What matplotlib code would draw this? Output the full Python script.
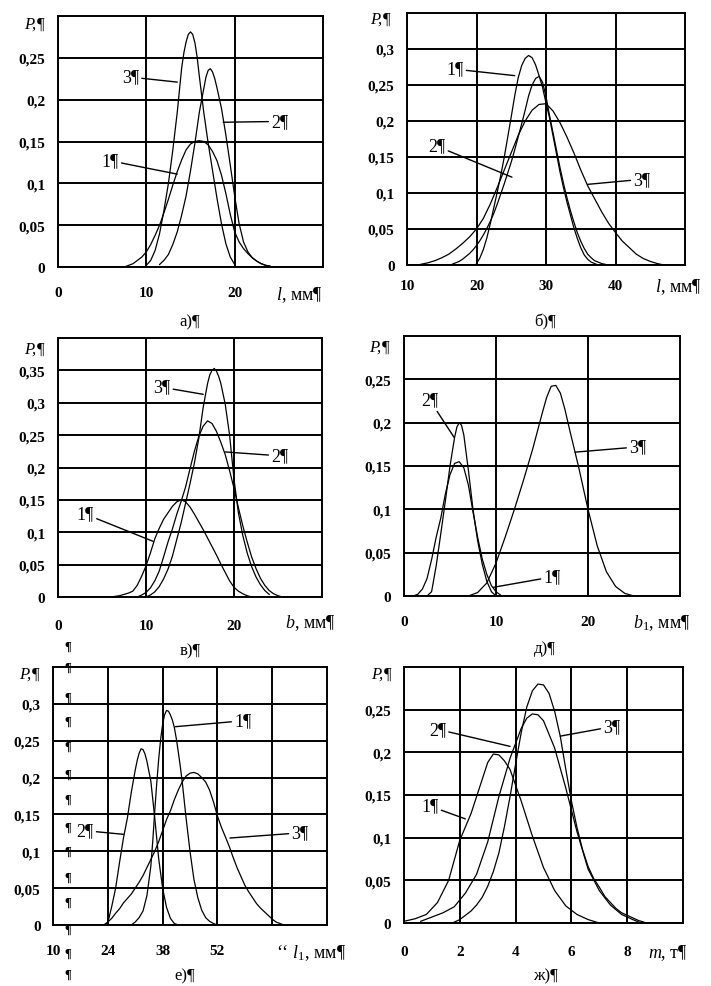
import matplotlib
matplotlib.use("Agg")
import matplotlib.pyplot as plt

plt.rcParams['font.family'] = ['Liberation Serif', 'DejaVu Serif']
plt.rcParams['mathtext.fontset'] = 'custom'
plt.rcParams['mathtext.it'] = 'Liberation Serif:italic'
plt.rcParams['mathtext.rm'] = 'Liberation Serif'

# ---- а) ----
a_x1 = [7.5, 8, 8.5, 9, 9.5, 10, 10.5, 11, 11.5, 12, 12.5, 13, 13.5, 14, 14.5, 15, 15.5,
        16, 16.5, 17, 17.5, 18, 18.5, 19, 19.5, 20, 20.5, 21, 21.5, 22, 22.5, 23, 23.5, 24]
a_y1 = [0.0, 0.002, 0.004, 0.008, 0.012, 0.018, 0.027, 0.038, 0.050, 0.065, 0.081, 0.098, 0.114,
        0.128, 0.140, 0.147, 0.150, 0.151, 0.150, 0.146, 0.138, 0.127, 0.110, 0.088, 0.063, 0.042,
        0.030, 0.022, 0.016, 0.011, 0.007, 0.004, 0.002, 0.001]
a_x2 = [11.5, 12, 12.5, 13, 13.5, 14, 14.5, 15, 15.5, 16, 16.5, 16.75, 17, 17.25, 17.5, 17.75,
        18, 18.5, 19, 19.5, 20, 20.5, 21, 21.5, 22, 22.5, 23, 23.5, 24]
a_y2 = [0.003, 0.008, 0.015, 0.027, 0.042, 0.062, 0.085, 0.115, 0.148, 0.185, 0.213, 0.227, 0.235,
        0.237, 0.233, 0.225, 0.214, 0.190, 0.158, 0.122, 0.085, 0.052, 0.030, 0.018, 0.011, 0.007,
        0.004, 0.002, 0.001]
a_x3 = [10, 10.5, 11, 11.5, 12, 12.5, 13, 13.5, 14, 14.25, 14.5, 14.75, 15, 15.25, 15.5, 15.75,
        16, 16.5, 17, 17.5, 18, 18.5, 19, 19.5, 20]
a_y3 = [0.002, 0.008, 0.020, 0.040, 0.068, 0.100, 0.140, 0.185, 0.238, 0.256, 0.269, 0.278, 0.281,
        0.278, 0.268, 0.251, 0.228, 0.185, 0.148, 0.115, 0.082, 0.052, 0.028, 0.012, 0.003]

# ---- б) ----
b_x1 = [20, 20.5, 21, 21.5, 22, 22.5, 23, 23.5, 24, 24.5, 25, 25.5, 26, 26.5, 27, 27.5, 28, 28.5,
        29, 29.5, 30, 30.5, 31, 31.5, 32, 32.5, 33, 33.5, 34, 34.5, 35, 35.5, 36, 36.5, 37, 37.5]
b_y1 = [0.002, 0.010, 0.022, 0.038, 0.058, 0.080, 0.102, 0.125, 0.150, 0.178, 0.206, 0.235, 0.260,
        0.277, 0.287, 0.291, 0.288, 0.278, 0.263, 0.247, 0.225, 0.205, 0.180, 0.155, 0.130, 0.108,
        0.088, 0.070, 0.052, 0.037, 0.024, 0.014, 0.008, 0.004, 0.002, 0.0]
b_x2 = [16.5, 17, 17.5, 18, 18.5, 19, 19.5, 20, 20.5, 21, 21.5, 22, 22.5, 23, 23.5, 24, 24.5, 25,
        25.5, 26, 26.5, 27, 27.5, 28, 28.5, 29, 29.5, 30, 30.5, 31, 31.5, 32, 32.5, 33, 33.5, 34,
        34.5, 35, 35.5, 36, 36.5, 37, 37.5, 38, 38.5]
b_y2 = [0.001, 0.003, 0.005, 0.008, 0.012, 0.016, 0.021, 0.027, 0.034, 0.042, 0.051, 0.061, 0.072,
        0.085, 0.099, 0.113, 0.128, 0.143, 0.160, 0.178, 0.196, 0.215, 0.235, 0.250, 0.259, 0.262,
        0.254, 0.234, 0.208, 0.184, 0.160, 0.136, 0.114, 0.094, 0.076, 0.060, 0.045, 0.033, 0.023,
        0.015, 0.010, 0.006, 0.004, 0.002, 0.001]
b_x3 = [12, 13, 14, 15, 16, 17, 18, 19, 20, 21, 22, 23, 24, 25, 26, 27, 28, 29, 30, 31, 32, 33,
        34, 35, 36, 37, 38, 39, 40, 41, 42, 43, 44, 45, 46, 47]
b_y3 = [0.001, 0.003, 0.006, 0.010, 0.015, 0.022, 0.030, 0.039, 0.050, 0.065, 0.085, 0.108, 0.132,
        0.156, 0.180, 0.200, 0.215, 0.223, 0.224, 0.214, 0.198, 0.178, 0.156, 0.132, 0.110, 0.092,
        0.074, 0.058, 0.045, 0.033, 0.024, 0.015, 0.009, 0.005, 0.002, 0.0]

# ---- в) ----
c_x1 = [6, 6.5, 7, 7.5, 8, 8.5, 9, 9.5, 10, 10.5, 11, 11.5, 12, 12.5, 13, 13.5, 14, 14.5, 15,
        15.5, 16, 16.5, 17, 17.5, 18, 18.5, 19, 19.5, 20, 20.5, 21, 21.5, 22]
c_y1 = [0.0, 0.001, 0.002, 0.004, 0.006, 0.009, 0.018, 0.032, 0.048, 0.068, 0.090, 0.106, 0.120,
        0.130, 0.140, 0.147, 0.150, 0.147, 0.139, 0.128, 0.116, 0.104, 0.091, 0.078, 0.065, 0.051,
        0.038, 0.025, 0.015, 0.009, 0.005, 0.002, 0.0]
c_x2 = [9, 9.5, 10, 10.5, 11, 11.5, 12, 12.5, 13, 13.5, 14, 14.5, 15, 15.5, 16, 16.5, 17, 17.5,
        18, 18.5, 19, 19.5, 20, 20.5, 21, 21.5, 22, 22.5, 23, 23.5, 24, 24.5, 25, 25.5]
c_y2 = [0.0, 0.003, 0.007, 0.014, 0.025, 0.040, 0.062, 0.085, 0.105, 0.128, 0.148, 0.170, 0.198,
        0.225, 0.248, 0.264, 0.272, 0.268, 0.256, 0.239, 0.220, 0.195, 0.168, 0.138, 0.110, 0.085,
        0.062, 0.044, 0.029, 0.018, 0.010, 0.005, 0.002, 0.0]
c_x3 = [10, 10.5, 11, 11.5, 12, 12.5, 13, 13.5, 14, 14.5, 15, 15.5, 16, 16.5, 17, 17.25, 17.5,
        17.75, 18, 18.25, 18.5, 19, 19.5, 20, 20.5, 21, 21.5, 22, 22.5, 23, 23.5, 24]
c_y3 = [0.0, 0.003, 0.008, 0.016, 0.028, 0.043, 0.063, 0.089, 0.115, 0.145, 0.175, 0.207, 0.245,
        0.293, 0.330, 0.343, 0.350, 0.353, 0.349, 0.341, 0.330, 0.298, 0.250, 0.182, 0.130, 0.095,
        0.068, 0.047, 0.031, 0.019, 0.010, 0.004]

# ---- д) ----
d_x1 = [1, 1.5, 2, 2.5, 3, 3.5, 4, 4.5, 5, 5.5, 6, 6.5, 7, 7.5, 8, 8.5, 9, 9.5, 10, 10.5]
d_y1 = [0.0, 0.002, 0.008, 0.020, 0.042, 0.068, 0.090, 0.118, 0.140, 0.153, 0.155, 0.148, 0.128,
        0.097, 0.068, 0.043, 0.025, 0.012, 0.005, 0.001]
d_x2 = [2.5, 3, 3.5, 4, 4.5, 5, 5.5, 5.75, 6, 6.25, 6.5, 7, 7.5, 8, 8.5, 9, 9.5, 10]
d_y2 = [0.0, 0.005, 0.035, 0.072, 0.110, 0.150, 0.183, 0.195, 0.200, 0.197, 0.186, 0.145, 0.100,
        0.064, 0.037, 0.017, 0.005, 0.0]
d_x3 = [7, 8, 9, 10, 11, 12, 13, 14, 15, 15.5, 16, 16.5, 17, 17.5, 18, 19, 20, 21, 22, 23, 24, 25]
d_y3 = [0.0, 0.004, 0.015, 0.038, 0.068, 0.100, 0.134, 0.170, 0.210, 0.229, 0.242, 0.243, 0.234,
        0.215, 0.192, 0.148, 0.100, 0.058, 0.028, 0.011, 0.003, 0.0]

# ---- е) ----
e_x1 = [30, 31, 32, 33, 34, 35, 35.5, 36, 36.5, 37, 37.5, 38, 38.5, 39, 39.5, 40, 40.5, 41, 41.5,
        42, 42.5, 43, 44, 45, 46, 47, 48, 49, 50, 51, 52]
e_y1 = [0.0, 0.004, 0.010, 0.019, 0.040, 0.080, 0.115, 0.155, 0.192, 0.225, 0.252, 0.272, 0.285,
        0.291, 0.290, 0.285, 0.278, 0.268, 0.253, 0.235, 0.216, 0.195, 0.145, 0.100, 0.062, 0.037,
        0.020, 0.010, 0.005, 0.002, 0.0]
e_x2 = [23, 24, 25, 26, 27, 28, 29, 30, 31, 31.5, 32, 32.5, 33, 33.5, 34, 35, 36, 37, 38, 39, 40,
        41, 42]
e_y2 = [0.0, 0.003, 0.025, 0.050, 0.085, 0.118, 0.145, 0.180, 0.210, 0.223, 0.233, 0.239, 0.238,
        0.232, 0.222, 0.195, 0.145, 0.090, 0.050, 0.024, 0.009, 0.002, 0.0]
e_x3 = [23, 24, 25, 26, 27, 28, 29, 30, 31, 32, 33, 34, 35, 36, 37, 38, 39, 40, 41, 42, 43, 44,
        45, 46, 47, 48, 49, 50, 51, 52, 53, 54, 55, 56, 57, 58, 59, 60, 61, 62, 63, 64, 65, 66,
        67, 68, 69]
e_y3 = [0.0, 0.004, 0.009, 0.016, 0.022, 0.030, 0.036, 0.042, 0.050, 0.058, 0.067, 0.078, 0.089,
        0.100, 0.113, 0.128, 0.143, 0.155, 0.170, 0.183, 0.194, 0.202, 0.206, 0.207, 0.205, 0.200,
        0.194, 0.183, 0.167, 0.148, 0.133, 0.120, 0.107, 0.092, 0.078, 0.066, 0.054, 0.045, 0.037,
        0.029, 0.023, 0.018, 0.013, 0.008, 0.004, 0.002, 0.0]

# ---- ж) ----
f_x1 = [0.0, 0.4, 0.8, 1.2, 1.6, 2.0, 2.4, 2.8, 3.0, 3.2, 3.4, 3.6, 3.8, 4.2, 4.6, 5.0, 5.4, 5.8,
        6.2, 6.6, 7.0]
f_y1 = [0.002, 0.005, 0.010, 0.024, 0.050, 0.097, 0.128, 0.168, 0.188, 0.198, 0.197, 0.190, 0.180,
        0.143, 0.102, 0.065, 0.038, 0.020, 0.010, 0.004, 0.0]
f_x2 = [0.6, 1.0, 1.4, 1.8, 2.2, 2.6, 3.0, 3.4, 3.8, 4.2, 4.4, 4.6, 4.8, 5.0, 5.4, 5.8, 6.2, 6.6,
        7.0, 7.4, 7.8, 8.2, 8.5]
f_y2 = [0.002, 0.007, 0.012, 0.019, 0.035, 0.057, 0.095, 0.148, 0.193, 0.228, 0.240, 0.245, 0.244,
        0.237, 0.205, 0.158, 0.107, 0.063, 0.038, 0.021, 0.010, 0.004, 0.0]
f_x3 = [1.8, 2.0, 2.2, 2.4, 2.6, 2.8, 3.0, 3.2, 3.4, 3.6, 3.8, 4.0, 4.2, 4.4, 4.6, 4.8, 5.0, 5.2,
        5.4, 5.6, 5.8, 6.0, 6.2, 6.4, 6.6, 6.8, 7.0, 7.2, 7.4, 7.6, 7.8, 8.0, 8.2, 8.4, 8.6]
f_y3 = [0.001, 0.004, 0.009, 0.014, 0.021, 0.030, 0.043, 0.060, 0.082, 0.113, 0.148, 0.186, 0.223,
        0.253, 0.272, 0.280, 0.279, 0.269, 0.248, 0.219, 0.180, 0.143, 0.112, 0.086, 0.066, 0.052,
        0.042, 0.031, 0.024, 0.017, 0.012, 0.009, 0.006, 0.003, 0.001]

y_labels = ['0', '0,05', '0,1', '0,15', '0,2', '0,25', '0,3', '0,35']


def draw_panel(rect, xlim, ylim, xt, xtl, nyl, xpad, curves, notes, xlab, xlab_pos, ylab_pos):
    ax = fig.add_axes(rect)
    for x, y in curves:
        ax.plot(x, y, color='black', lw=0.9)
    ax.set_xlim(xlim)
    ax.set_ylim(ylim)
    ax.set_xticks(xt, xtl)
    ax.set_yticks([0.05 * i for i in range(nyl)], y_labels[:nyl])
    ax.tick_params(length=0, labelsize=11)
    ax.tick_params(axis='x', pad=xpad)
    ax.tick_params(axis='y', pad=9)
    for lab in ax.get_xticklabels() + ax.get_yticklabels():
        lab.set_fontweight('bold')
    ax.grid(color='black', lw=1.4)
    for sp in ax.spines.values():
        sp.set_linewidth(1.4)
    for txt, tpos, ppos in notes:
        ax.annotate(txt, xy=ppos, xytext=tpos, ha='center', va='center', fontsize=13,
                    arrowprops=dict(arrowstyle='-', color='black', lw=1.0, shrinkA=0, shrinkB=0))
    ax.text(xlab_pos[0], xlab_pos[1], xlab, transform=ax.transAxes, ha='center', va='center',
            fontsize=13)
    ax.text(ylab_pos[0], ylab_pos[1], 'P,¶', transform=ax.transAxes, ha='center', va='center',
            fontsize=12, style='italic')
    return ax


fig = plt.figure(figsize=(7.11, 9.87), dpi=100)
W, H = 711, 987


def rect(l, r, t, b):
    return [l / W, 1 - b / H, (r - l) / W, (b - t) / H]


draw_panel(rect(58, 323, 17, 268), (0, 30), (0, 0.3), [0, 10, 20], ['0', '10', '20'], 6, 14,
           [(a_x1, a_y1), (a_x2, a_y2), (a_x3, a_y3)],
           [('3¶', (8.2, 0.227), (13.5, 0.221)), ('2¶', (25.1, 0.174), (18.7, 0.173)),
            ('1¶', (5.9, 0.127), (13.5, 0.111))],
           '$l$, мм¶', (0.91, -0.108), (-0.09, 0.968))

draw_panel(rect(407, 685, 14, 266), (10, 50), (0, 0.35), [10, 20, 30, 40],
           ['10', '20', '30', '40'], 7, 10,
           [(b_x1, b_y1), (b_x2, b_y2), (b_x3, b_y3)],
           [('1¶', (16.9, 0.272), (25.5, 0.263)), ('2¶', (14.3, 0.165), (25.1, 0.122)),
            ('3¶', (43.8, 0.119), (36.0, 0.112))],
           '$l$, мм¶', (0.975, -0.083), (-0.097, 0.976))

draw_panel(rect(58, 322, 339, 598), (0, 30), (0, 0.4), [0, 10, 20], ['0', '10', '20'], 8, 16,
           [(c_x1, c_y1), (c_x2, c_y2), (c_x3, c_y3)],
           [('3¶', (11.8, 0.324), (16.5, 0.313)), ('2¶', (25.2, 0.218), (19.0, 0.224)),
            ('1¶', (3.1, 0.128), (10.8, 0.086))],
           '$b$, мм¶', (0.955, -0.097), (-0.09, 0.957))

draw_panel(rect(404, 680, 337, 597), (0, 30), (0, 0.3), [0, 10, 20], ['0', '10', '20'], 6, 14,
           [(d_x1, d_y1), (d_x2, d_y2), (d_x3, d_y3)],
           [('2¶', (2.8, 0.226), (5.45, 0.183)), ('3¶', (25.4, 0.172), (18.6, 0.166)),
            ('1¶', (16.1, 0.022), (9.7, 0.010))],
           '$b_1$, мм¶', (0.935, -0.1), (-0.087, 0.958))

draw_panel(rect(53, 327, 668, 926), (10, 80), (0, 0.35), [10, 24, 38, 52, 66],
           ['10', '24', '38', '52', ''], 7, 14,
           [(e_x1, e_y1), (e_x2, e_y2), (e_x3, e_y3)],
           [('1¶', (58.5, 0.277), (41.2, 0.269)), ('2¶', (18.2, 0.128), (28.0, 0.123)),
            ('3¶', (73.1, 0.125), (55.2, 0.118))],
           '‘‘ $l_1$, мм¶', (0.94, -0.105), (-0.084, 0.973))

draw_panel(rect(404, 683, 668, 924), (0, 10), (0, 0.3), [0, 2, 4, 6, 8],
           ['0', '2', '4', '6', '8'], 6, 16,
           [(f_x1, f_y1), (f_x2, f_y2), (f_x3, f_y3)],
           [('2¶', (1.2, 0.227), (3.8, 0.207)), ('3¶', (7.45, 0.23), (5.6, 0.219)),
            ('1¶', (0.93, 0.137), (2.2, 0.122))],
           '$m$, т¶', (0.946, -0.113), (-0.079, 0.973))

# panel captions
for cap, cx, cy in [('а)¶', 190, 322), ('б)¶', 545, 322), ('в)¶', 190, 651),
                    ('д)¶', 545, 649), ('е)¶', 185, 976), ('ж)¶', 545, 976)]:
    fig.text(cx / W, 1 - cy / H, cap, ha='center', va='center', fontsize=12)

# column of paragraph marks left of panel е)
for py in [647, 668, 698, 722, 747, 775, 800, 828, 852, 878, 903, 930, 954, 975]:
    fig.text(68 / W, 1 - py / H, '¶', ha='center', va='center', fontsize=9, fontweight='bold')

fig.savefig('out.png', dpi=100)
